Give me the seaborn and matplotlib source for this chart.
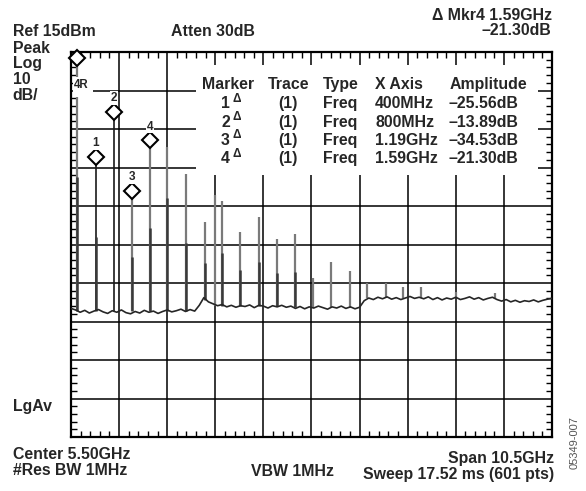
import numpy as np
import pandas as pd
import matplotlib
matplotlib.use("Agg")
import matplotlib.pyplot as plt
import seaborn as sns
from matplotlib.patches import Rectangle

# analyzer screen settings
start_ghz = 0.25
stop_ghz = 10.75
ref_dbm = 15
bottom_dbm = -85

# noise floor of the trace, one reading per 0.1 GHz starting at 0.25 GHz
floor_dbm = [
    -51.6, -52.0, -52.6, -52.1, -52.8, -52.3, -51.9, -52.5, -52.9, -52.2,
    -52.6, -52.0, -52.7, -53.0, -52.4, -52.8, -52.1, -52.6, -52.3, -52.9,
    -52.4, -52.0, -52.5, -52.2, -51.8, -52.4, -51.9, -52.3,
    -50.8, -48.8, -49.9,
    -50.4, -50.9, -50.6, -51.2, -50.8, -51.3, -50.9, -51.1, -50.7, -51.4,
    -50.8, -51.0, -51.5, -50.9, -51.2, -50.8, -51.3, -51.0, -51.6, -51.1,
    -51.7, -51.2, -51.5, -51.0, -51.4, -51.8, -51.2, -51.5, -51.0, -51.6,
    -51.2, -51.7, -51.3,
    -49.6, -48.9, -49.3, -48.7, -49.1, -48.6, -49.2, -48.8, -49.3, -48.9,
    -48.5, -49.0, -48.7,
    -49.1, -48.6, -49.3, -48.8, -49.4, -48.9, -49.2, -48.7, -49.3, -49.0,
    -48.6, -49.2, -48.8, -49.4, -49.0, -48.7, -49.3,
    -49.7, -49.3, -49.9, -49.5, -50.0, -49.6, -49.8, -49.4, -49.9, -49.5,
    -49.2, -49.0,
]

# reference marker (fundamental) and delta markers from the marker table
ref_ghz = 0.39
ref_level = 13.4
marker_id = ["1", "2", "3", "4"]
marker_ghz = [0.40, 0.80, 1.19, 1.59]
marker_db = [-25.56, -13.89, -34.53, -21.30]
marker_xlabel = ["400MHz", "800MHz", "1.19GHz", "1.59GHz"]

# other spurs: frequency, peak and base level
spur_ghz = [0.39, 2.34, 2.77, 3.17, 3.40, 3.555, 3.95, 4.35, 4.745, 5.15,
            5.54, 5.93, 6.33, 6.71, 7.13, 7.50, 7.89, 8.66, 9.51]
spur_top = [13.4, -9.7, -16.8, -29.2, -22.1, -23.7, -31.7, -27.9, -33.6, -32.3,
            -43.7, -39.5, -41.8, -45.1, -45.1, -46.0, -46.0, -47.3, -47.6]
spur_base = [-52.3, -52.3, -52.3, -49.5, -51.0, -51.0, -51.0, -51.0, -51.0, -51.2,
             -51.4, -51.4, -51.4, -49.0, -49.0, -49.0, -49.0, -49.0, -49.2]

# darker lower part of the spurs (second sweep)
dark_ghz = [0.39, 0.79, 1.58, 1.98, 2.34, 2.77, 3.17, 3.555, 3.95, 4.35, 4.745, 5.15]
dark_top = [-17.5, -33.0, -38.2, -30.7, -22.9, -34.6, -39.8, -37.2, -41.6, -39.5, -42.4, -42.1]
dark_base = [-52.3, -52.3, -52.3, -52.3, -52.3, -52.3, -49.5, -51.0, -51.0, -51.0, -51.0, -51.2]

W, H = 586, 491


def fx(x):
    return x / W


def fy(y):
    return 1 - y / H


sns.set_theme(style="white")
plt.rcParams['font.family'] = ['Liberation Sans', 'DejaVu Sans']
plt.rcParams['font.weight'] = 'bold'
FS = 11.4

fig = plt.figure(figsize=(W / 100, H / 100), dpi=100)
fig.patch.set_facecolor("white")
ax = fig.add_axes([fx(71), fy(437), (552 - 71) / W, (437 - 52) / H])

floor = pd.DataFrame({
    "ghz": np.linspace(start_ghz, stop_ghz, len(floor_dbm)),
    "dbm": floor_dbm,
})

mk_x = [ref_ghz + d for d in marker_ghz]
mk_y = [ref_level + d for d in marker_db]

# spurs
ax.vlines(spur_ghz, spur_base, spur_top, color="#7a7a7a", lw=1.6, zorder=3)
ax.vlines(mk_x[2:], [-52.3, -52.3], mk_y[2:], color="#7a7a7a", lw=1.6, zorder=3)
ax.vlines(mk_x[:2], [-52.3, -52.3], mk_y[:2], color="#1a1a1a", lw=1.2, zorder=3)
ax.vlines(dark_ghz, dark_base, dark_top, color="#3a3a3a", lw=1.8, zorder=3)
sns.lineplot(data=floor, x="ghz", y="dbm", ax=ax, color="#262626", lw=1.2, zorder=4)

# markers
ax.plot([ref_ghz], [ref_level], marker="D", ms=8, mfc="white", mec="black",
        mew=1.5, ls="none", zorder=6, clip_on=False)
ax.plot(mk_x, mk_y, marker="D", ms=8, mfc="white", mec="black",
        mew=1.5, ls="none", zorder=6)
for lab, x, y in zip(marker_id, mk_x, mk_y):
    ax.annotate(lab, (x, y), xytext=(0, 5.5), textcoords="offset points",
                ha="center", va="bottom", fontsize=8.5, fontweight="bold",
                bbox=dict(fc="white", ec="none", pad=0.4), zorder=6)

ax.set_xlim(start_ghz, stop_ghz)
ax.set_ylim(bottom_dbm, ref_dbm)
div_x = (stop_ghz - start_ghz) / 10
ax.set_xticks([start_ghz + div_x * k for k in range(11)])
ax.set_yticks(range(bottom_dbm, ref_dbm + 1, 10))
ax.set_xticks([start_ghz + div_x / 5 * k for k in range(51)], minor=True)
ax.set_yticks(range(bottom_dbm, ref_dbm + 1, 2), minor=True)
ax.set_xticklabels([])
ax.set_yticklabels([])
ax.set_xlabel("")
ax.set_ylabel("")
ax.grid(True, which="major", color="black", lw=1.1)
ax.tick_params(which="major", length=0)
ax.tick_params(which="minor", direction="in", length=4, width=1, color="black",
               top=True, right=True, bottom=True, left=True)
for s in ax.spines.values():
    s.set_color("black")
    s.set_linewidth(1.6)

# white areas over the grid: marker table, 4R label
fig.patches.append(Rectangle((fx(196), fy(175)), (538 - 196) / W, (175 - 65) / H,
                             transform=fig.transFigure, fc="white", ec="none", zorder=1))
fig.patches.append(Rectangle((fx(72.5), fy(97)), (93 - 72.5) / W, (97 - 77) / H,
                             transform=fig.transFigure, fc="white", ec="none", zorder=1))
fig.text(fx(74), fy(88.5), "4R", fontsize=8.3, fontweight="bold", zorder=3)


def label(x, y, s, ha="left", size=FS, **kw):
    fig.text(fx(x), fy(y), s, ha=ha, va="baseline", fontsize=size,
             fontweight="bold", zorder=3, **kw)


# screen annotations
label(12.7, 36.5, "Ref 15dBm")
label(171, 36.5, "Atten 30dB")
label(551.7, 20, "\u0394 Mkr4 1.59GHz", ha="right")
label(551.7, 35, "\u201321.30dB", ha="right")
label(12.7, 53, "Peak")
label(12.7, 68.5, "Log")
label(12.7, 84, "10")
label(12.7, 99.5, "dB/")
label(12.7, 410.5, "LgAv")
label(12.7, 459, "Center 5.50GHz")
label(12.7, 475, "#Res BW 1MHz")
label(251, 476, "VBW 1MHz")
label(554, 463.3, "Span 10.5GHz", ha="right")
label(554, 479, "Sweep 17.52 ms (601 pts)", ha="right")
fig.text(fx(575), fy(443), "05349-007", rotation=90, ha="center", va="center",
         fontsize=8, fontweight="normal", color="#555555")

# marker table
row_y = [108.3, 126.7, 145, 163.3]
label(201.7, 89, "Marker")
label(268, 89, "Trace")
label(322.7, 89, "Type")
label(375, 89, "X Axis")
label(449.3, 89, "Amplitude")
for k in range(4):
    y = row_y[k]
    label(230, y, marker_id[k], ha="right")
    label(233, y - 6.5, "\u0394", size=8.5)
    label(288, y, "(1)", ha="center")
    label(323.3, y, "Freq")
    label(375, y, marker_xlabel[k])
    label(448.3, y, f"\u2013{abs(marker_db[k]):.2f}dB")

fig.savefig("out.png", dpi=100, facecolor="white")
